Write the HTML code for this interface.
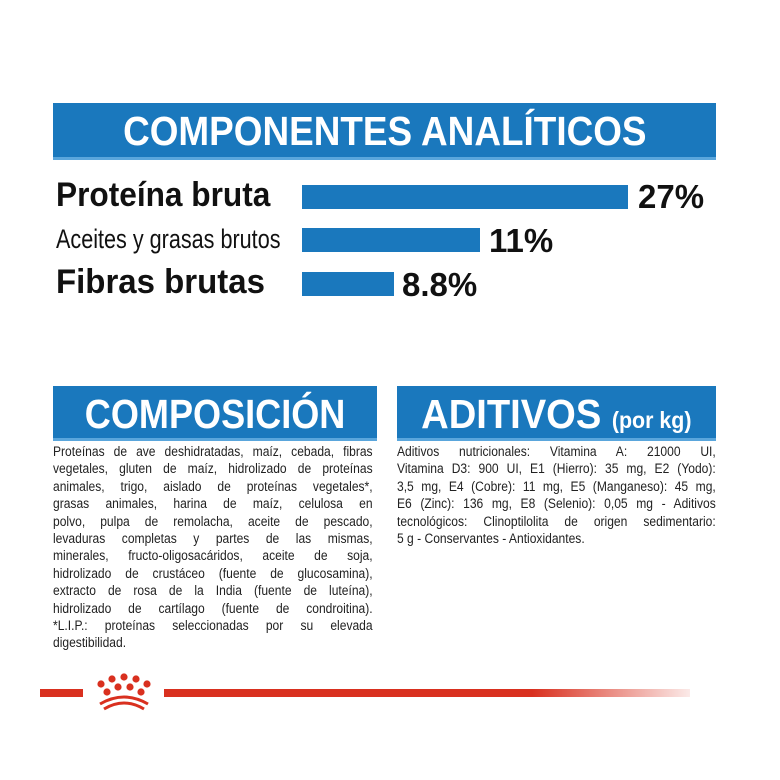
<!DOCTYPE html>
<html><head><meta charset="utf-8"><style>
body{margin:0;width:780px;height:780px;background:#fff;position:relative;overflow:hidden;font-family:"Liberation Sans",sans-serif;}
.ban{position:absolute;background:#1a78bd;color:#fff;font-weight:bold;text-align:center;border-bottom:3px solid #5aa6dc;white-space:nowrap}
.ban span.s{display:inline-block}
.lab{position:absolute;font-weight:bold;color:#111;white-space:nowrap;transform-origin:left top}
.bar{position:absolute;background:#1a78bd;left:302px}
.txt{position:absolute;top:444px;font-size:14.2px;line-height:17.4px;color:#222;transform:scaleX(0.85);transform-origin:left top}
.txt div{text-align:justify;text-align-last:justify;white-space:nowrap}
.txt div.l{text-align-last:left}
</style></head><body>
<div class="ban" style="left:53px;top:103px;width:663px;height:54px;font-size:41px;line-height:56px"><span class="s" style="transform:scaleX(0.9)">COMPONENTES ANALÍTICOS</span></div>
<div class="lab" style="left:56px;top:176px;font-size:34px;transform:scaleX(0.93)">Proteína bruta</div>
<div class="lab" style="left:56px;top:224px;font-size:27px;font-weight:normal;transform:scaleX(0.8)">Aceites y grasas brutos</div>
<div class="lab" style="left:56px;top:263px;font-size:34px;transform:scaleX(0.97)">Fibras brutas</div>
<div class="bar" style="top:185px;width:326px;height:24px"></div>
<div class="bar" style="top:228px;width:178px;height:24px"></div>
<div class="bar" style="top:272px;width:92px;height:24px"></div>
<div class="lab" style="left:638px;top:178px;font-size:33px">27%</div>
<div class="lab" style="left:489px;top:222px;font-size:33px">11%</div>
<div class="lab" style="left:402px;top:266px;font-size:33px">8.8%</div>
<div class="ban" style="left:53px;top:386px;width:324px;height:52px;font-size:41px;line-height:56px"><span class="s" style="transform:scaleX(0.88)">COMPOSICIÓN</span></div>
<div class="ban" style="left:397px;top:386px;width:319px;height:52px;font-size:41px;line-height:56px"><span class="s" style="transform:scaleX(0.93)">ADITIVOS <span style="font-size:23px">(por kg)</span></span></div>
<div class="txt" style="left:53px;width:376px">
<div>Proteínas de ave deshidratadas, maíz, cebada, fibras</div>
<div>vegetales, gluten de maíz, hidrolizado de proteínas</div>
<div>animales, trigo, aislado de proteínas vegetales*,</div>
<div>grasas animales, harina de maíz, celulosa en</div>
<div>polvo, pulpa de remolacha, aceite de pescado,</div>
<div>levaduras completas y partes de las mismas,</div>
<div>minerales, fructo-oligosacáridos, aceite de soja,</div>
<div>hidrolizado de crustáceo (fuente de glucosamina),</div>
<div>extracto de rosa de la India (fuente de luteína),</div>
<div>hidrolizado de cartílago (fuente de condroitina).</div>
<div>*L.I.P.: proteínas seleccionadas por su elevada</div>
<div class="l">digestibilidad.</div>
</div>
<div class="txt" style="left:397px;width:375px">
<div>Aditivos nutricionales: Vitamina A: 21000 UI,</div>
<div>Vitamina D3: 900 UI, E1 (Hierro): 35 mg, E2 (Yodo):</div>
<div>3,5 mg, E4 (Cobre): 11 mg, E5 (Manganeso): 45 mg,</div>
<div>E6 (Zinc): 136 mg, E8 (Selenio): 0,05 mg - Aditivos</div>
<div>tecnológicos: Clinoptilolita de origen sedimentario:</div>
<div class="l">5 g - Conservantes - Antioxidantes.</div>
</div>
<div style="position:absolute;left:40px;top:689px;width:43px;height:8px;background:#d9301f"></div>
<div style="position:absolute;left:164px;top:689px;width:526px;height:8px;background:linear-gradient(90deg,#d9301f 0%,#d9301f 70%,rgba(217,48,31,0.1) 100%)"></div>
<svg style="position:absolute;left:88px;top:672px" width="72" height="40" viewBox="0 0 72 40">
<g fill="#d9301f">
<circle cx="36" cy="5" r="3.6"/><circle cx="24" cy="7" r="3.6"/><circle cx="48" cy="7" r="3.6"/>
<circle cx="13" cy="12" r="3.6"/><circle cx="59" cy="12" r="3.6"/>
<circle cx="30" cy="15" r="3.6"/><circle cx="42" cy="15" r="3.6"/>
<circle cx="19" cy="20" r="3.6"/><circle cx="53" cy="20" r="3.6"/>
</g>
<path d="M12 32 Q36 18 60 32" stroke="#d9301f" stroke-width="3" fill="none"/>
<path d="M16 37 Q36 25 56 37" stroke="#d9301f" stroke-width="3" fill="none"/>
</svg>
</body></html>
